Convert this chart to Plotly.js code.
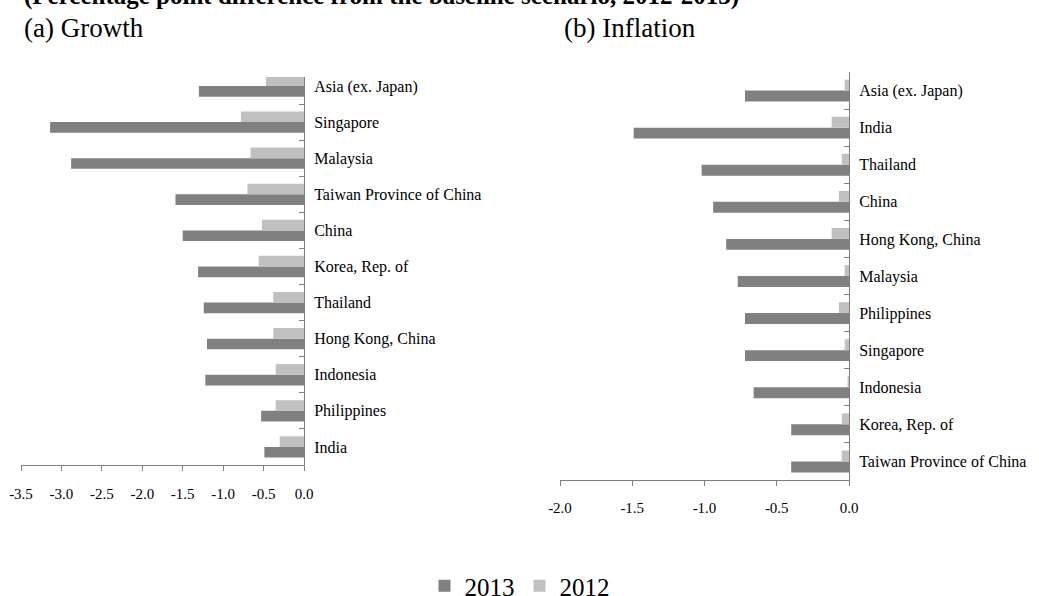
<!DOCTYPE html>
<html>
<head>
<meta charset="utf-8">
<script src="https://cdn.plot.ly/plotly-3.0.1.min.js"></script>
<style>html,body{margin:0;padding:0;background:#fff;}#chart{width:1039px;height:596px;}</style>
</head>
<body>
<div id="chart"></div>
<script>
// ---- Data (top-to-bottom order as shown in the chart) ----
const growthCountries = ['Asia (ex. Japan)', 'Singapore', 'Malaysia', 'Taiwan Province of China', 'China',
  'Korea, Rep. of', 'Thailand', 'Hong Kong, China', 'Indonesia', 'Philippines', 'India'];
const growth2013 = [-1.30, -3.14, -2.88, -1.59, -1.50, -1.31, -1.24, -1.20, -1.22, -0.53, -0.49];
const growth2012 = [-0.47, -0.78, -0.66, -0.70, -0.52, -0.56, -0.38, -0.38, -0.35, -0.35, -0.30];

const inflationCountries = ['Asia (ex. Japan)', 'India', 'Thailand', 'China', 'Hong Kong, China', 'Malaysia',
  'Philippines', 'Singapore', 'Indonesia', 'Korea, Rep. of', 'Taiwan Province of China'];
const inflation2013 = [-0.72, -1.49, -1.02, -0.94, -0.85, -0.77, -0.72, -0.72, -0.66, -0.40, -0.40];
const inflation2012 = [-0.03, -0.12, -0.05, -0.07, -0.12, -0.03, -0.07, -0.03, -0.01, -0.05, -0.05];

const growthTickVals = [-3.5, -3.0, -2.5, -2.0, -1.5, -1.0, -0.5, 0.0];
const growthTickText = ['-3.5', '-3.0', '-2.5', '-2.0', '-1.5', '-1.0', '-0.5', '0.0'];
const inflationTickVals = [-2.0, -1.5, -1.0, -0.5, 0.0];
const inflationTickText = ['-2.0', '-1.5', '-1.0', '-0.5', '0.0'];

const seriesNames = ['2013', '2012'];
const titleText = '(Percentage point difference from the baseline scenario, 2012-2013)';
const panelTitles = ['(a) Growth', '(b) Inflation'];

// ---- Styles ----
const darkColor = '#808080';
const lightColor = '#c0c0c0';
const axisColor = '#7f7f7f';
const serif = 'Liberation Serif';
const W = 1039, H = 596;
const px = v => v / W;
const py = v => 1 - v / H;

const traces = [
  {type: 'bar', orientation: 'h', name: seriesNames[0], y: growthCountries, x: growth2013,
   marker: {color: darkColor}, xaxis: 'x', yaxis: 'y', legendgroup: 'a', showlegend: true},
  {type: 'bar', orientation: 'h', name: seriesNames[1], y: growthCountries, x: growth2012,
   marker: {color: lightColor}, xaxis: 'x', yaxis: 'y', legendgroup: 'b', showlegend: true},
  {type: 'bar', orientation: 'h', name: seriesNames[0], y: inflationCountries, x: inflation2013,
   marker: {color: darkColor}, xaxis: 'x2', yaxis: 'y2', legendgroup: 'a', showlegend: false},
  {type: 'bar', orientation: 'h', name: seriesNames[1], y: inflationCountries, x: inflation2012,
   marker: {color: lightColor}, xaxis: 'x2', yaxis: 'y2', legendgroup: 'b', showlegend: false}
];

const xAxisBase = {
  showgrid: false, zeroline: false, showline: true, linecolor: axisColor, linewidth: 1,
  ticks: 'outside', ticklen: 5, tickcolor: axisColor, tickmode: 'array',
  tickfont: {family: serif, size: 15, color: '#000'}, fixedrange: true
};
const yAxisBase = {
  type: 'category', categoryorder: 'array', side: 'right', showgrid: false, zeroline: false,
  showline: true, linecolor: axisColor, linewidth: 1, ticks: 'inside', ticklen: 5, tickcolor: axisColor,
  tickson: 'boundaries', tickfont: {family: serif, size: 16, color: '#000'}, ticklabelstandoff: 6,
  fixedrange: true
};

const layout = {
  width: W, height: H,
  font: {family: serif, color: '#000'},
  margin: {l: 0, r: 0, t: 0, b: 0, autoexpand: false},
  paper_bgcolor: '#fff', plot_bgcolor: '#fff',
  barmode: 'group', bargap: 0.41, bargroupgap: 0,
  xaxis: Object.assign({}, xAxisBase, {domain: [px(21), px(304)], range: [-3.5, 0], anchor: 'y',
    tickvals: growthTickVals, ticktext: growthTickText, ticklabelstandoff: 10}),
  yaxis: Object.assign({}, yAxisBase, {domain: [py(465), py(77)], anchor: 'x',
    categoryarray: growthCountries.slice().reverse(), range: [-0.5, 10.25]}),
  xaxis2: Object.assign({}, xAxisBase, {domain: [px(560), px(849)], range: [-2.0, 0], anchor: 'y2',
    tickvals: inflationTickVals, ticktext: inflationTickText, ticklabelstandoff: 9}),
  yaxis2: Object.assign({}, yAxisBase, {domain: [py(480), py(72)], anchor: 'x2',
    categoryarray: inflationCountries.slice().reverse(), range: [-0.5, 10.5]}),
  showlegend: true,
  legend: {orientation: 'h', x: 0.5, xanchor: 'center', y: py(586), yanchor: 'middle',
    font: {family: serif, size: 25, color: '#000'}, itemwidth: 30, bgcolor: 'rgba(0,0,0,0)'},
  annotations: [
    {text: '<b>' + titleText + '</b>', xref: 'paper', yref: 'paper', x: px(22), y: 1,
     xanchor: 'left', yanchor: 'middle', yshift: 4, showarrow: false,
     font: {family: serif, size: 25, color: '#000'}},
    {text: panelTitles[0], xref: 'paper', yref: 'paper', x: px(22), y: py(28),
     xanchor: 'left', yanchor: 'middle', showarrow: false,
     font: {family: serif, size: 27, color: '#000'}},
    {text: panelTitles[1], xref: 'paper', yref: 'paper', x: px(562), y: py(28),
     xanchor: 'left', yanchor: 'middle', showarrow: false,
     font: {family: serif, size: 27, color: '#000'}}
  ]
};

Plotly.newPlot('chart', traces, layout, {displayModeBar: false, staticPlot: true});
</script>
</body>
</html>
